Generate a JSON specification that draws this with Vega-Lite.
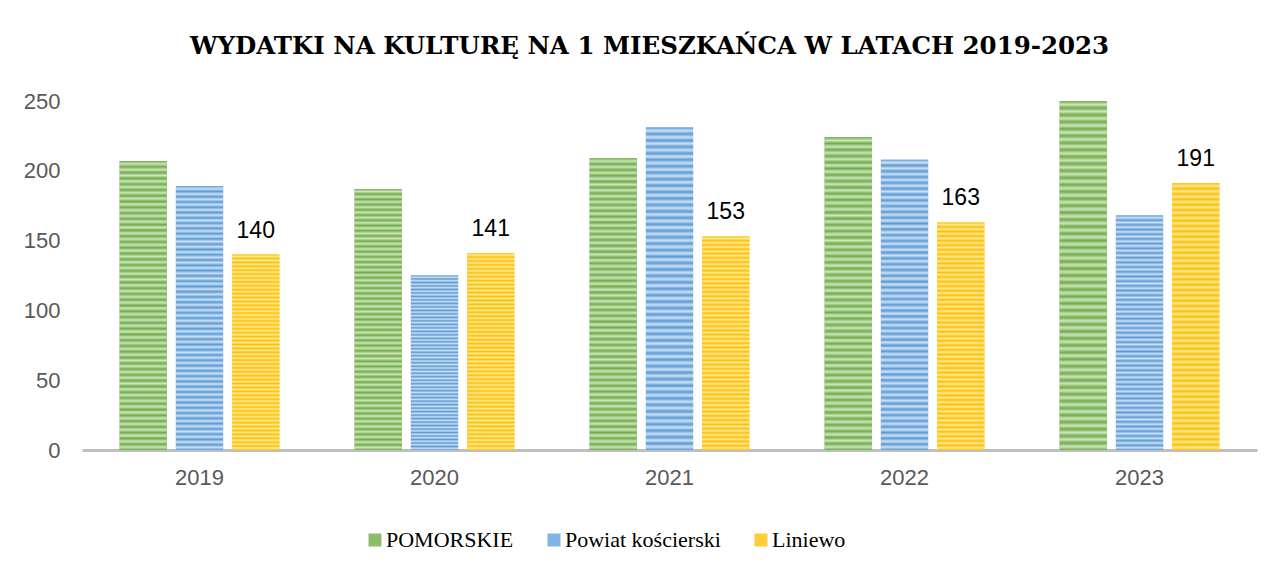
{
  "$schema": "https://vega.github.io/schema/vega-lite/v6.json",
  "width": 1175,
  "height": 349,
  "autosize": {"type": "none"},
  "padding": {"left": 82, "top": 101, "right": 30, "bottom": 123},
  "background": "white",
  "title": {
    "text": "WYDATKI NA KULTURĘ NA 1 MIESZKAŃCA W LATACH 2019-2023",
    "font": "DejaVu Serif",
    "fontSize": 24.5,
    "fontWeight": "bold",
    "color": "#000000",
    "anchor": "middle",
    "frame": "group",
    "dx": -20,
    "baseline": "alphabetic",
    "offset": 12
  },
  "data": {
    "values": [
      {"year": "2019", "series": "POMORSKIE", "value": 207},
      {"year": "2019", "series": "Powiat kościerski", "value": 189},
      {"year": "2019", "series": "Liniewo", "value": 140},
      {"year": "2020", "series": "POMORSKIE", "value": 187},
      {"year": "2020", "series": "Powiat kościerski", "value": 125},
      {"year": "2020", "series": "Liniewo", "value": 141},
      {"year": "2021", "series": "POMORSKIE", "value": 209},
      {"year": "2021", "series": "Powiat kościerski", "value": 231},
      {"year": "2021", "series": "Liniewo", "value": 153},
      {"year": "2022", "series": "POMORSKIE", "value": 224},
      {"year": "2022", "series": "Powiat kościerski", "value": 208},
      {"year": "2022", "series": "Liniewo", "value": 163},
      {"year": "2023", "series": "POMORSKIE", "value": 250},
      {"year": "2023", "series": "Powiat kościerski", "value": 168},
      {"year": "2023", "series": "Liniewo", "value": 191}
    ]
  },
  "encoding": {
    "x": {
      "field": "year",
      "type": "nominal",
      "scale": {"paddingInner": 0.32, "paddingOuter": 0.16},
      "axis": {
        "title": null,
        "labelAngle": 0,
        "ticks": false,
        "domainColor": "#BFBFBF",
        "domainWidth": 3,
        "labelFont": "Liberation Sans",
        "labelFontSize": 22,
        "labelColor": "#595959",
        "labelPadding": 17
      }
    },
    "xOffset": {
      "field": "series",
      "type": "nominal",
      "sort": ["POMORSKIE", "Powiat kościerski", "Liniewo"],
      "scale": {"paddingInner": 0.16, "paddingOuter": 0}
    },
    "y": {
      "field": "value",
      "type": "quantitative",
      "scale": {"domain": [0, 250]},
      "axis": {
        "title": null,
        "values": [0, 50, 100, 150, 200, 250],
        "grid": false,
        "ticks": false,
        "domain": false,
        "labelFont": "Liberation Sans",
        "labelFontSize": 22,
        "labelColor": "#595959",
        "labelPadding": 22
      }
    }
  },
  "layer": [
    {
      "mark": {"type": "bar"},
      "encoding": {
        "color": {
          "field": "series",
          "type": "nominal",
          "sort": ["POMORSKIE", "Powiat kościerski", "Liniewo"],
          "scale": {
            "domain": ["POMORSKIE", "Powiat kościerski", "Liniewo"],
            "range": ["#8CBD6A", "#82B4E2", "#FFCD3A"]
          },
          "legend": {
            "title": null,
            "orient": "none",
            "direction": "horizontal",
            "legendX": 282,
            "legendY": 428,
            "symbolType": "square",
            "symbolSize": 169,
            "symbolStrokeWidth": 0,
            "labelFont": "Liberation Serif",
            "labelFontSize": 22,
            "labelColor": "#000000",
            "labelOffset": 0,
            "columnPadding": 29
          }
        }
      }
    },
    {
      "transform": [{"filter": "datum.series === 'POMORSKIE'"}],
      "mark": {"type": "bar", "fill": {"gradient": "linear", "x1": 0, "y1": 0, "x2": 0, "y2": 1, "stops": [
                {"offset":0,"color":"#70AD47"},{"offset":0.01,"color":"#CDE4BE"},{"offset":0.02,"color":"#70AD47"},{"offset":0.03,"color":"#CDE4BE"},{"offset":0.04,"color":"#70AD47"},{"offset":0.05,"color":"#CDE4BE"},{"offset":0.06,"color":"#70AD47"},{"offset":0.07,"color":"#CDE4BE"},{"offset":0.08,"color":"#70AD47"},{"offset":0.09,"color":"#CDE4BE"},
                {"offset":0.1,"color":"#70AD47"},{"offset":0.11,"color":"#CDE4BE"},{"offset":0.12,"color":"#70AD47"},{"offset":0.13,"color":"#CDE4BE"},{"offset":0.14,"color":"#70AD47"},{"offset":0.15,"color":"#CDE4BE"},{"offset":0.16,"color":"#70AD47"},{"offset":0.17,"color":"#CDE4BE"},{"offset":0.18,"color":"#70AD47"},{"offset":0.19,"color":"#CDE4BE"},
                {"offset":0.2,"color":"#70AD47"},{"offset":0.21,"color":"#CDE4BE"},{"offset":0.22,"color":"#70AD47"},{"offset":0.23,"color":"#CDE4BE"},{"offset":0.24,"color":"#70AD47"},{"offset":0.25,"color":"#CDE4BE"},{"offset":0.26,"color":"#70AD47"},{"offset":0.27,"color":"#CDE4BE"},{"offset":0.28,"color":"#70AD47"},{"offset":0.29,"color":"#CDE4BE"},
                {"offset":0.3,"color":"#70AD47"},{"offset":0.31,"color":"#CDE4BE"},{"offset":0.32,"color":"#70AD47"},{"offset":0.33,"color":"#CDE4BE"},{"offset":0.34,"color":"#70AD47"},{"offset":0.35,"color":"#CDE4BE"},{"offset":0.36,"color":"#70AD47"},{"offset":0.37,"color":"#CDE4BE"},{"offset":0.38,"color":"#70AD47"},{"offset":0.39,"color":"#CDE4BE"},
                {"offset":0.4,"color":"#70AD47"},{"offset":0.41,"color":"#CDE4BE"},{"offset":0.42,"color":"#70AD47"},{"offset":0.43,"color":"#CDE4BE"},{"offset":0.44,"color":"#70AD47"},{"offset":0.45,"color":"#CDE4BE"},{"offset":0.46,"color":"#70AD47"},{"offset":0.47,"color":"#CDE4BE"},{"offset":0.48,"color":"#70AD47"},{"offset":0.49,"color":"#CDE4BE"},
                {"offset":0.5,"color":"#70AD47"},{"offset":0.51,"color":"#CDE4BE"},{"offset":0.52,"color":"#70AD47"},{"offset":0.53,"color":"#CDE4BE"},{"offset":0.54,"color":"#70AD47"},{"offset":0.55,"color":"#CDE4BE"},{"offset":0.56,"color":"#70AD47"},{"offset":0.57,"color":"#CDE4BE"},{"offset":0.58,"color":"#70AD47"},{"offset":0.59,"color":"#CDE4BE"},
                {"offset":0.6,"color":"#70AD47"},{"offset":0.61,"color":"#CDE4BE"},{"offset":0.62,"color":"#70AD47"},{"offset":0.63,"color":"#CDE4BE"},{"offset":0.64,"color":"#70AD47"},{"offset":0.65,"color":"#CDE4BE"},{"offset":0.66,"color":"#70AD47"},{"offset":0.67,"color":"#CDE4BE"},{"offset":0.68,"color":"#70AD47"},{"offset":0.69,"color":"#CDE4BE"},
                {"offset":0.7,"color":"#70AD47"},{"offset":0.71,"color":"#CDE4BE"},{"offset":0.72,"color":"#70AD47"},{"offset":0.73,"color":"#CDE4BE"},{"offset":0.74,"color":"#70AD47"},{"offset":0.75,"color":"#CDE4BE"},{"offset":0.76,"color":"#70AD47"},{"offset":0.77,"color":"#CDE4BE"},{"offset":0.78,"color":"#70AD47"},{"offset":0.79,"color":"#CDE4BE"},
                {"offset":0.8,"color":"#70AD47"},{"offset":0.81,"color":"#CDE4BE"},{"offset":0.82,"color":"#70AD47"},{"offset":0.83,"color":"#CDE4BE"},{"offset":0.84,"color":"#70AD47"},{"offset":0.85,"color":"#CDE4BE"},{"offset":0.86,"color":"#70AD47"},{"offset":0.87,"color":"#CDE4BE"},{"offset":0.88,"color":"#70AD47"},{"offset":0.89,"color":"#CDE4BE"},
                {"offset":0.9,"color":"#70AD47"},{"offset":0.91,"color":"#CDE4BE"},{"offset":0.92,"color":"#70AD47"},{"offset":0.93,"color":"#CDE4BE"},{"offset":0.94,"color":"#70AD47"},{"offset":0.95,"color":"#CDE4BE"},{"offset":0.96,"color":"#70AD47"},{"offset":0.97,"color":"#CDE4BE"},{"offset":0.98,"color":"#70AD47"},{"offset":0.99,"color":"#CDE4BE"},
                {"offset":1,"color":"#70AD47"}
              ]}},
      "encoding": {}
    },
    {
      "transform": [{"filter": "datum.series === 'Powiat kościerski'"}],
      "mark": {"type": "bar", "fill": {"gradient": "linear", "x1": 0, "y1": 0, "x2": 0, "y2": 1, "stops": [
                {"offset":0,"color":"#5B9BD5"},{"offset":0.01,"color":"#CCE0F4"},{"offset":0.02,"color":"#5B9BD5"},{"offset":0.03,"color":"#CCE0F4"},{"offset":0.04,"color":"#5B9BD5"},{"offset":0.05,"color":"#CCE0F4"},{"offset":0.06,"color":"#5B9BD5"},{"offset":0.07,"color":"#CCE0F4"},{"offset":0.08,"color":"#5B9BD5"},{"offset":0.09,"color":"#CCE0F4"},
                {"offset":0.1,"color":"#5B9BD5"},{"offset":0.11,"color":"#CCE0F4"},{"offset":0.12,"color":"#5B9BD5"},{"offset":0.13,"color":"#CCE0F4"},{"offset":0.14,"color":"#5B9BD5"},{"offset":0.15,"color":"#CCE0F4"},{"offset":0.16,"color":"#5B9BD5"},{"offset":0.17,"color":"#CCE0F4"},{"offset":0.18,"color":"#5B9BD5"},{"offset":0.19,"color":"#CCE0F4"},
                {"offset":0.2,"color":"#5B9BD5"},{"offset":0.21,"color":"#CCE0F4"},{"offset":0.22,"color":"#5B9BD5"},{"offset":0.23,"color":"#CCE0F4"},{"offset":0.24,"color":"#5B9BD5"},{"offset":0.25,"color":"#CCE0F4"},{"offset":0.26,"color":"#5B9BD5"},{"offset":0.27,"color":"#CCE0F4"},{"offset":0.28,"color":"#5B9BD5"},{"offset":0.29,"color":"#CCE0F4"},
                {"offset":0.3,"color":"#5B9BD5"},{"offset":0.31,"color":"#CCE0F4"},{"offset":0.32,"color":"#5B9BD5"},{"offset":0.33,"color":"#CCE0F4"},{"offset":0.34,"color":"#5B9BD5"},{"offset":0.35,"color":"#CCE0F4"},{"offset":0.36,"color":"#5B9BD5"},{"offset":0.37,"color":"#CCE0F4"},{"offset":0.38,"color":"#5B9BD5"},{"offset":0.39,"color":"#CCE0F4"},
                {"offset":0.4,"color":"#5B9BD5"},{"offset":0.41,"color":"#CCE0F4"},{"offset":0.42,"color":"#5B9BD5"},{"offset":0.43,"color":"#CCE0F4"},{"offset":0.44,"color":"#5B9BD5"},{"offset":0.45,"color":"#CCE0F4"},{"offset":0.46,"color":"#5B9BD5"},{"offset":0.47,"color":"#CCE0F4"},{"offset":0.48,"color":"#5B9BD5"},{"offset":0.49,"color":"#CCE0F4"},
                {"offset":0.5,"color":"#5B9BD5"},{"offset":0.51,"color":"#CCE0F4"},{"offset":0.52,"color":"#5B9BD5"},{"offset":0.53,"color":"#CCE0F4"},{"offset":0.54,"color":"#5B9BD5"},{"offset":0.55,"color":"#CCE0F4"},{"offset":0.56,"color":"#5B9BD5"},{"offset":0.57,"color":"#CCE0F4"},{"offset":0.58,"color":"#5B9BD5"},{"offset":0.59,"color":"#CCE0F4"},
                {"offset":0.6,"color":"#5B9BD5"},{"offset":0.61,"color":"#CCE0F4"},{"offset":0.62,"color":"#5B9BD5"},{"offset":0.63,"color":"#CCE0F4"},{"offset":0.64,"color":"#5B9BD5"},{"offset":0.65,"color":"#CCE0F4"},{"offset":0.66,"color":"#5B9BD5"},{"offset":0.67,"color":"#CCE0F4"},{"offset":0.68,"color":"#5B9BD5"},{"offset":0.69,"color":"#CCE0F4"},
                {"offset":0.7,"color":"#5B9BD5"},{"offset":0.71,"color":"#CCE0F4"},{"offset":0.72,"color":"#5B9BD5"},{"offset":0.73,"color":"#CCE0F4"},{"offset":0.74,"color":"#5B9BD5"},{"offset":0.75,"color":"#CCE0F4"},{"offset":0.76,"color":"#5B9BD5"},{"offset":0.77,"color":"#CCE0F4"},{"offset":0.78,"color":"#5B9BD5"},{"offset":0.79,"color":"#CCE0F4"},
                {"offset":0.8,"color":"#5B9BD5"},{"offset":0.81,"color":"#CCE0F4"},{"offset":0.82,"color":"#5B9BD5"},{"offset":0.83,"color":"#CCE0F4"},{"offset":0.84,"color":"#5B9BD5"},{"offset":0.85,"color":"#CCE0F4"},{"offset":0.86,"color":"#5B9BD5"},{"offset":0.87,"color":"#CCE0F4"},{"offset":0.88,"color":"#5B9BD5"},{"offset":0.89,"color":"#CCE0F4"},
                {"offset":0.9,"color":"#5B9BD5"},{"offset":0.91,"color":"#CCE0F4"},{"offset":0.92,"color":"#5B9BD5"},{"offset":0.93,"color":"#CCE0F4"},{"offset":0.94,"color":"#5B9BD5"},{"offset":0.95,"color":"#CCE0F4"},{"offset":0.96,"color":"#5B9BD5"},{"offset":0.97,"color":"#CCE0F4"},{"offset":0.98,"color":"#5B9BD5"},{"offset":0.99,"color":"#CCE0F4"},
                {"offset":1,"color":"#5B9BD5"}
              ]}},
      "encoding": {}
    },
    {
      "transform": [{"filter": "datum.series === 'Liniewo'"}],
      "mark": {"type": "bar", "fill": {"gradient": "linear", "x1": 0, "y1": 0, "x2": 0, "y2": 1, "stops": [
                {"offset":0,"color":"#FFC000"},{"offset":0.01,"color":"#FFE89A"},{"offset":0.02,"color":"#FFC000"},{"offset":0.03,"color":"#FFE89A"},{"offset":0.04,"color":"#FFC000"},{"offset":0.05,"color":"#FFE89A"},{"offset":0.06,"color":"#FFC000"},{"offset":0.07,"color":"#FFE89A"},{"offset":0.08,"color":"#FFC000"},{"offset":0.09,"color":"#FFE89A"},
                {"offset":0.1,"color":"#FFC000"},{"offset":0.11,"color":"#FFE89A"},{"offset":0.12,"color":"#FFC000"},{"offset":0.13,"color":"#FFE89A"},{"offset":0.14,"color":"#FFC000"},{"offset":0.15,"color":"#FFE89A"},{"offset":0.16,"color":"#FFC000"},{"offset":0.17,"color":"#FFE89A"},{"offset":0.18,"color":"#FFC000"},{"offset":0.19,"color":"#FFE89A"},
                {"offset":0.2,"color":"#FFC000"},{"offset":0.21,"color":"#FFE89A"},{"offset":0.22,"color":"#FFC000"},{"offset":0.23,"color":"#FFE89A"},{"offset":0.24,"color":"#FFC000"},{"offset":0.25,"color":"#FFE89A"},{"offset":0.26,"color":"#FFC000"},{"offset":0.27,"color":"#FFE89A"},{"offset":0.28,"color":"#FFC000"},{"offset":0.29,"color":"#FFE89A"},
                {"offset":0.3,"color":"#FFC000"},{"offset":0.31,"color":"#FFE89A"},{"offset":0.32,"color":"#FFC000"},{"offset":0.33,"color":"#FFE89A"},{"offset":0.34,"color":"#FFC000"},{"offset":0.35,"color":"#FFE89A"},{"offset":0.36,"color":"#FFC000"},{"offset":0.37,"color":"#FFE89A"},{"offset":0.38,"color":"#FFC000"},{"offset":0.39,"color":"#FFE89A"},
                {"offset":0.4,"color":"#FFC000"},{"offset":0.41,"color":"#FFE89A"},{"offset":0.42,"color":"#FFC000"},{"offset":0.43,"color":"#FFE89A"},{"offset":0.44,"color":"#FFC000"},{"offset":0.45,"color":"#FFE89A"},{"offset":0.46,"color":"#FFC000"},{"offset":0.47,"color":"#FFE89A"},{"offset":0.48,"color":"#FFC000"},{"offset":0.49,"color":"#FFE89A"},
                {"offset":0.5,"color":"#FFC000"},{"offset":0.51,"color":"#FFE89A"},{"offset":0.52,"color":"#FFC000"},{"offset":0.53,"color":"#FFE89A"},{"offset":0.54,"color":"#FFC000"},{"offset":0.55,"color":"#FFE89A"},{"offset":0.56,"color":"#FFC000"},{"offset":0.57,"color":"#FFE89A"},{"offset":0.58,"color":"#FFC000"},{"offset":0.59,"color":"#FFE89A"},
                {"offset":0.6,"color":"#FFC000"},{"offset":0.61,"color":"#FFE89A"},{"offset":0.62,"color":"#FFC000"},{"offset":0.63,"color":"#FFE89A"},{"offset":0.64,"color":"#FFC000"},{"offset":0.65,"color":"#FFE89A"},{"offset":0.66,"color":"#FFC000"},{"offset":0.67,"color":"#FFE89A"},{"offset":0.68,"color":"#FFC000"},{"offset":0.69,"color":"#FFE89A"},
                {"offset":0.7,"color":"#FFC000"},{"offset":0.71,"color":"#FFE89A"},{"offset":0.72,"color":"#FFC000"},{"offset":0.73,"color":"#FFE89A"},{"offset":0.74,"color":"#FFC000"},{"offset":0.75,"color":"#FFE89A"},{"offset":0.76,"color":"#FFC000"},{"offset":0.77,"color":"#FFE89A"},{"offset":0.78,"color":"#FFC000"},{"offset":0.79,"color":"#FFE89A"},
                {"offset":0.8,"color":"#FFC000"},{"offset":0.81,"color":"#FFE89A"},{"offset":0.82,"color":"#FFC000"},{"offset":0.83,"color":"#FFE89A"},{"offset":0.84,"color":"#FFC000"},{"offset":0.85,"color":"#FFE89A"},{"offset":0.86,"color":"#FFC000"},{"offset":0.87,"color":"#FFE89A"},{"offset":0.88,"color":"#FFC000"},{"offset":0.89,"color":"#FFE89A"},
                {"offset":0.9,"color":"#FFC000"},{"offset":0.91,"color":"#FFE89A"},{"offset":0.92,"color":"#FFC000"},{"offset":0.93,"color":"#FFE89A"},{"offset":0.94,"color":"#FFC000"},{"offset":0.95,"color":"#FFE89A"},{"offset":0.96,"color":"#FFC000"},{"offset":0.97,"color":"#FFE89A"},{"offset":0.98,"color":"#FFC000"},{"offset":0.99,"color":"#FFE89A"},
                {"offset":1,"color":"#FFC000"}
              ]}},
      "encoding": {}
    },
    {
      "transform": [{"filter": "datum.series === 'Liniewo'"}],
      "mark": {
        "type": "text",
        "baseline": "alphabetic",
        "dy": -17,
        "font": "Liberation Sans",
        "fontSize": 23,
        "color": "#000000"
      },
      "encoding": {
        "text": {"field": "value", "type": "quantitative"}
      }
    }
  ],
  "config": {
    "view": {"stroke": null}
  }
}
